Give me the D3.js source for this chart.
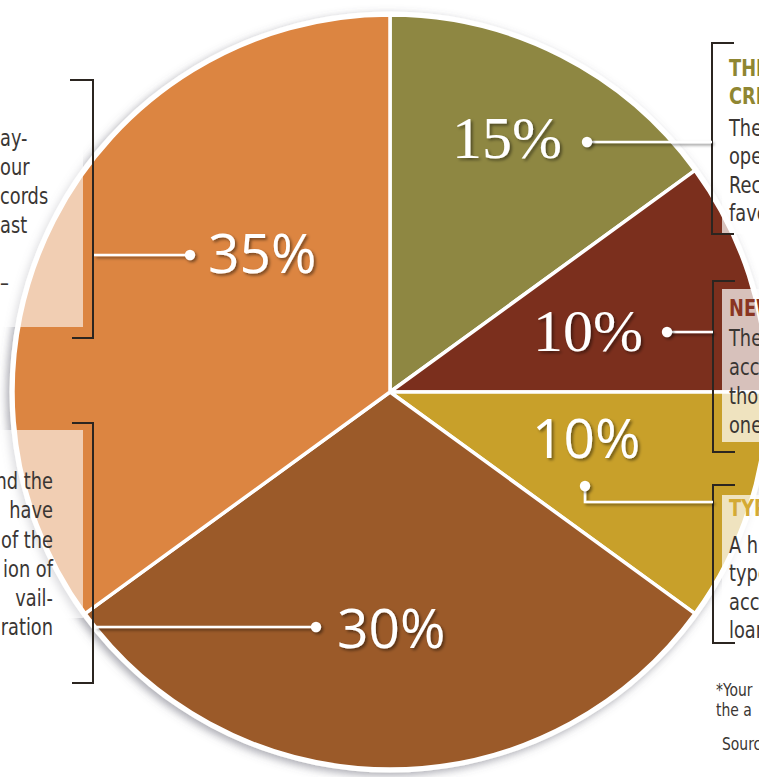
<!DOCTYPE html>
<html><head><meta charset="utf-8">
<script src="https://cdn.jsdelivr.net/npm/d3@7/dist/d3.min.js"></script>
<style>body{margin:0;background:#fff}svg{display:block}</style>
</head><body>
<svg id="chart" width="759" height="777"></svg>
<script>
// ---- data ----
const categories = ["Length of credit history", "New credit", "Types of credit", "Amounts owed", "Payment history"];
const values = [15, 10, 10, 30, 35];
const valueLabels = ["15%", "10%", "10%", "30%", "35%"];
const sliceColors = ["#8e8742", "#7b2f1d", "#c8a02a", "#9b5a29", "#dc8541"];

const leftNoteTop = ["ay-", "our", "cords", "ast", "", "\u2013"];
const leftNoteBottom = ["nd the", "have", "of the", "ion of", "vail-", "ration"];
const rightNote1Head = ["THE", "CRE"];
const rightNote1Body = ["The", "ope", "Rec", "fave"];
const rightNote2Head = ["NEW"];
const rightNote2Body = ["The", "acc", "tho", "one"];
const rightNote3Head = ["TYP"];
const rightNote3Body = ["A h", "type", "acc", "loan"];
const footnotes = ["*Your", "the a", "Sourc"];

// ---- layout ----
const svg = d3.select("#chart");
const W = 759, H = 777;
const cx = 390, cy = 392, R = 377;
const bodyFont = "'DejaVu Sans Condensed','DejaVu Sans',sans-serif";
const SX = 0.86; // horizontal condensing of note text

svg.append("rect").attr("width", W).attr("height", H).attr("fill", "#fff");

const defs = svg.append("defs");
const sh = defs.append("filter").attr("id", "pieShadow").attr("filterUnits", "userSpaceOnUse")
  .attr("x", -R - 60).attr("y", -R - 60).attr("width", 2 * R + 120).attr("height", 2 * R + 120);
sh.append("feDropShadow").attr("dx", -3).attr("dy", 3).attr("stdDeviation", 4).attr("flood-color", "#556").attr("flood-opacity", 0.5);
const ts = defs.append("filter").attr("id", "txtShadow").attr("filterUnits", "userSpaceOnUse")
  .attr("x", 0).attr("y", 0).attr("width", W).attr("height", H);
ts.append("feDropShadow").attr("dx", 2).attr("dy", 2).attr("stdDeviation", 1.6).attr("flood-color", "#000").attr("flood-opacity", 0.45);

const pie = d3.pie().sort(null).value(d => d).startAngle(0).endAngle(2 * Math.PI);
const arc = d3.arc().innerRadius(0).outerRadius(R);
const arcs = pie(values);

const g = svg.append("g").attr("transform", `translate(${cx},${cy})`);
g.append("circle").attr("r", R + 3.5).attr("fill", "#fff").attr("filter", "url(#pieShadow)");
g.selectAll("path.slice").data(arcs).join("path")
  .attr("class", "slice")
  .attr("d", arc)
  .attr("fill", (d, i) => sliceColors[i])
  .attr("stroke", "#fff").attr("stroke-width", 3.5).attr("stroke-linejoin", "round");

// translucent note boxes
const boxes = [
  {x: -5, y: 95, w: 88, h: 232, op: 0.6},
  {x: -5, y: 430, w: 88, h: 188, op: 0.6},
  {x: 722, y: 50, w: 45, h: 184, op: 0.7},
  {x: 722, y: 289, w: 45, h: 153, op: 0.7},
  {x: 722, y: 495, w: 45, h: 145, op: 0.7}
];
svg.selectAll("rect.box").data(boxes).join("rect").attr("class", "box")
  .attr("x", d => d.x).attr("y", d => d.y).attr("width", d => d.w).attr("height", d => d.h)
  .attr("fill", "#fff").attr("opacity", d => d.op);

// brackets
const brackets = [
  "M70,80 H93 V338 H72",
  "M72,423 H93 V683 H72",
  "M734,43 H712 V234 H734",
  "M735,281 H713 V452 H735",
  "M735,485 H713 V643 H735"
];
svg.selectAll("path.br").data(brackets).join("path").attr("class", "br")
  .attr("d", d => d).attr("fill", "none").attr("stroke", "#2b2520").attr("stroke-width", 2);

// leader lines and dots (one per slice, in slice order)
const leaders = [
  {path: "M587,142 H712", dot: [587, 142]},
  {path: "M667,332 H713", dot: [667, 332]},
  {path: "M585,486 V502 H713", dot: [585, 486]},
  {path: "M95,627 H316", dot: [316, 627]},
  {path: "M94,255 H190", dot: [190, 255]}
];
svg.selectAll("path.ld").data(leaders).join("path").attr("class", "ld")
  .attr("d", d => d.path).attr("fill", "none").attr("stroke", "#fff").attr("stroke-width", 2.6)
  .attr("filter", "url(#txtShadow)");
svg.selectAll("circle.dot").data(leaders).join("circle").attr("class", "dot")
  .attr("cx", d => d.dot[0]).attr("cy", d => d.dot[1]).attr("r", 5.2).attr("fill", "#fff")
  .attr("filter", "url(#txtShadow)");

// value labels
const labelPos = [
  {x: 452, y: 158, serif: true, size: 60},
  {x: 533, y: 351, serif: true, size: 60},
  {x: 532, y: 458, serif: false, size: 55},
  {x: 337, y: 648, serif: false, size: 55},
  {x: 208, y: 273, serif: false, size: 55}
];
svg.selectAll("text.val").data(arcs).join("text").attr("class", "val")
  .attr("x", (d, i) => labelPos[i].x).attr("y", (d, i) => labelPos[i].y)
  .attr("font-family", (d, i) => labelPos[i].serif ? "'Liberation Serif','DejaVu Serif',serif" : "'Open Sans','Lato',sans-serif")
  .attr("font-size", (d, i) => labelPos[i].size)
  .attr("font-weight", (d, i) => labelPos[i].serif ? 400 : 500)
  .attr("fill", "#fff")
  .attr("filter", "url(#txtShadow)")
  .text((d, i) => valueLabels[i]);

// note texts
function lines(arr, x, y0, step, opts) {
  svg.append("g").attr("transform", `scale(${SX},1)`)
    .selectAll("text").data(arr).join("text")
    .attr("x", x / SX).attr("y", (d, i) => y0 + i * step)
    .attr("text-anchor", opts.anchor || "start")
    .attr("font-family", bodyFont)
    .attr("font-size", opts.size || 23)
    .attr("font-weight", opts.weight || 400)
    .attr("fill", opts.color || "#3a3633")
    .text(d => d);
}
lines(leftNoteTop, 0, 146, 29, {});
lines(leftNoteBottom, 53, 489, 29.3, {anchor: "end"});
lines(rightNote1Head, 729, 76, 28.5, {weight: 700, color: "#8f8632"});
lines(rightNote1Body, 729, 136, 28.5, {});
lines(rightNote2Head, 729, 316, 29, {weight: 700, color: "#8a3522"});
lines(rightNote2Body, 729, 346, 29, {});
lines(rightNote3Head, 729, 516, 29, {weight: 700, color: "#d4aa35"});
lines(rightNote3Body, 729, 553, 28.5, {});
lines(footnotes.slice(0, 2), 716, 696, 20, {size: 18});
lines(footnotes.slice(2), 722, 750, 20, {size: 18});
</script>
</body></html>
